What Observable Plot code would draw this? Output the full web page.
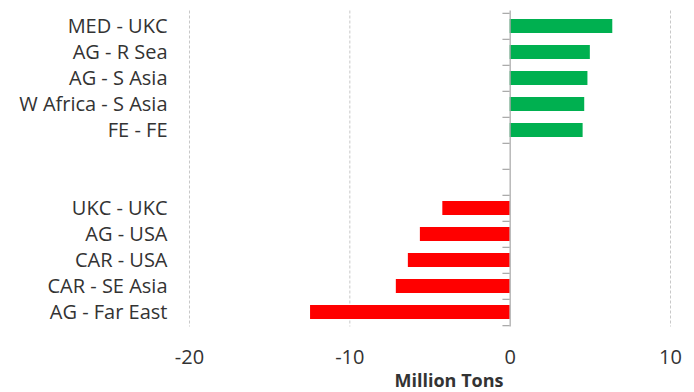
<!DOCTYPE html>
<html>
<head>
<meta charset="utf-8">
<script src="https://cdn.jsdelivr.net/npm/d3@7"></script>
<script src="https://cdn.jsdelivr.net/npm/@observablehq/plot@0.6"></script>
<style>
  html, body { margin: 0; padding: 0; background: #fff; }
  #chart svg { display: block; }
</style>
</head>
<body>
<div id="chart"></div>
<script>
// Routes with rising tonne-miles (top group) and falling ones (bottom group)
const gainRoutes = ["MED - UKC", "AG - R Sea", "AG - S Asia", "W Africa - S Asia", "FE - FE"];
const gainValues = [6.4, 5.0, 4.85, 4.65, 4.55];
const lossRoutes = ["UKC - UKC", "AG - USA", "CAR - USA", "CAR - SE Asia", "AG - Far East"];
const lossValues = [-4.2, -5.6, -6.35, -7.1, -12.45];
// two empty rows separate the groups
const spacerRows = [" ", "  "];
const xTicks = [-20, -10, 0, 10];

const rows = [
  ...gainRoutes.map((route, i) => ({route, value: gainValues[i], color: "#00b050"})),
  ...lossRoutes.map((route, i) => ({route, value: lossValues[i], color: "#ff0000"}))
];
const domain = [...gainRoutes, ...spacerRows, ...lossRoutes];

const width = 694, height = 392;
const marginTop = 10.5, marginBottom = 65.5, marginLeft = 189, marginRight = 24;
const step = (height - marginTop - marginBottom) / domain.length;

const font = "'Open Sans', sans-serif";
const ink = "#333";

const chart = Plot.plot({
  width, height, marginTop, marginBottom, marginLeft, marginRight,
  style: {fontFamily: font, fontSize: "20px", color: ink, background: "#fff"},
  x: {domain: [-20, 10]},
  y: {domain, paddingInner: 0.47, paddingOuter: 0.265, align: 0.5},
  marks: [
    // dashed vertical gridlines
    Plot.ruleX(xTicks.filter(d => d !== 0), {stroke: "#c8c8c8", strokeDasharray: "3,2", strokeWidth: 1}),
    Plot.barX(rows, {y: "route", x: "value", fill: "color"}),
    // category axis line at zero
    Plot.ruleX([0], {stroke: "#a6a6a6", strokeWidth: 1.2}),
    // tick marks on the category boundaries
    Plot.ruleY(domain, {y: d => d, x1: -0.45, x2: 0, dy: -step / 2, stroke: "#a6a6a6", strokeWidth: 1.2}),
    Plot.ruleY(domain.slice(-1), {y: d => d, x1: -0.45, x2: 0, dy: step / 2, stroke: "#a6a6a6", strokeWidth: 1.2}),
    Plot.axisY({tickSize: 0, tickPadding: 22, label: null, fontSize: 20, fill: ink}),
    Plot.axisX({ticks: xTicks, tickSize: 0, tickPadding: 23, tickFormat: d => String(d),
      fontSize: 20, fill: ink, label: null}),
    Plot.text(["Million Tons"], {frameAnchor: "bottom", dy: 60, dx: 19, fontWeight: "bold", fontSize: 18, fill: ink})
  ]
});

document.getElementById("chart").append(chart);
</script>
</body>
</html>
